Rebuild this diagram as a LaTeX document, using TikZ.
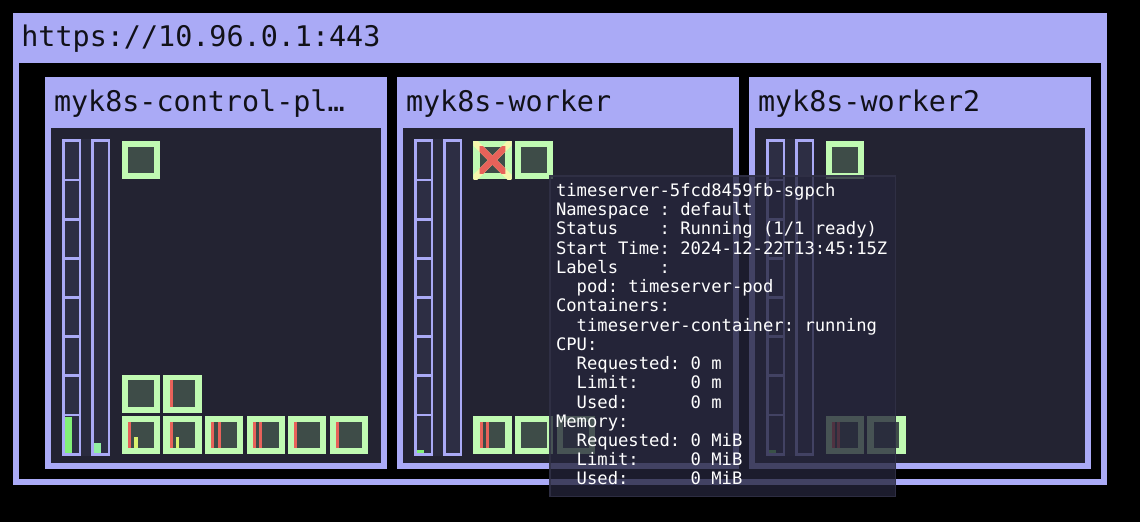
\documentclass[tikz,border=0pt]{standalone}
\usepackage{fontspec}
\setmonofont{DejaVu Sans Mono}
\definecolor{lav}{RGB}{170,170,246}
\definecolor{dk}{RGB}{35,35,50}
\definecolor{barin}{RGB}{45,46,68}
\definecolor{barbg}{RGB}{42,43,62}
\definecolor{podg}{RGB}{192,250,178}
\definecolor{podin}{RGB}{62,76,72}
\definecolor{redc}{RGB}{232,98,90}
\definecolor{yelc}{RGB}{218,242,112}
\definecolor{xyel}{RGB}{246,246,172}
\definecolor{grna}{RGB}{130,240,120}
\definecolor{grnb}{RGB}{146,240,162}
\definecolor{tipbg}{RGB}{37,37,58}
\definecolor{tipline}{RGB}{50,50,72}
\definecolor{hdrtext}{RGB}{17,17,24}
\tikzset{
  hdr/.style={font=\fontsize{28.4}{30}\selectfont\ttfamily, text=hdrtext, inner sep=0pt, anchor=base west},
  tiptext/.style={font=\fontsize{17.2}{19}\selectfont\ttfamily, text=white, inner sep=0pt, anchor=base west},
  bars/.pic={
    \fill[barbg] (0,0) rectangle (48,317);
    \filldraw[fill=barin,draw=lav,line width=2.7pt] (1.35,1.35) rectangle (17.65,315.65);
    \foreach \d in {41,80.2,119.3,158.5,197.7,236.8,276}
      \draw[lav,line width=2.7pt] (1.35,\d) -- (17.65,\d);
    \filldraw[fill=barin,draw=lav,line width=2.7pt] (30.05,1.35) rectangle (46.65,315.65);
  },
  pod/.pic={
    \fill[podg] (0,0) rectangle (38.3,38.3);
    \fill[podin] (6.3,5.7) rectangle (32,32.3);
  }
}
\newcommand{\redstripe}[2]{\fill[redc] (#1,#2+5.7) rectangle ++(3,26.6);}
\newcommand{\yelstripe}[1]{\fill[yelc] (#1,437) rectangle ++(3.3,11.3);}
\begin{document}
\begin{tikzpicture}[x=1pt,y=-1pt]
\useasboundingbox (0,0) rectangle (1140,522);
\fill[black] (0,0) rectangle (1140,522);
% outer cluster frame
\fill[lav] (13,13) rectangle (1106.7,485);
\fill[black] (19,63.3) rectangle (1100.7,479);
\node[hdr] (api) at (21.2,46.7) {https://10.96.0.1:443};
% node panels
\foreach \nx/\nm/\lab in {45/cp/{myk8s-control-pl…},397/wa/{myk8s-worker},749/wb/{myk8s-worker2}}{
  \fill[lav] (\nx,76.7) rectangle ++(341.7,392.6);
  \fill[dk] (\nx+6,128) rectangle ++(330,335);
  \node[hdr] (\nm) at (\nx+8.8,111) {\lab};
  \pic at (\nx+17.3,139) {bars};
}
% usage fills in bars
\fill[grna] (65,416.7) rectangle (72,452.7);
\fill[grnb] (94,442.7) rectangle (101,452.7);
\fill[grna] (417,450) rectangle (423.7,452.7);
\fill[grna] (769.3,450) rectangle (775.7,453);
% control-plane pods
\pic at (121.7,141) {pod};
\pic at (121.7,374.7) {pod};
\pic at (163.3,374.7) {pod};
\redstripe{169.7}{374.7}
\foreach \c in {121.7,163.3,204.9,246.5,288.1,329.7}
  \pic at (\c,416) {pod};
\redstripe{128}{416} \yelstripe{134.2}
\redstripe{169.7}{416} \yelstripe{175.6}
\redstripe{211}{416} \redstripe{217.7}{416}
\redstripe{252.7}{416} \redstripe{259}{416}
\redstripe{294.3}{416}
\redstripe{336}{416}
% worker pods
\pic at (473.3,141) {pod};
\begin{scope}
  \clip (473.3,141) rectangle (511.6,179.3);
  \draw[xyel,line width=6.5pt] (473.3,141) -- (511.6,179.3);
  \draw[xyel,line width=6.5pt] (511.6,141) -- (473.3,179.3);
\end{scope}
\begin{scope}
  \clip (479.6,146.7) rectangle (505.3,173);
  \draw[redc,line width=6.5pt] (473.3,141) -- (511.6,179.3);
  \draw[redc,line width=6.5pt] (511.6,141) -- (473.3,179.3);
\end{scope}
\pic at (514.9,141) {pod};
\pic at (473.3,416) {pod};
\redstripe{479.7}{416} \redstripe{485.7}{416}
\pic at (514.9,416) {pod};
\pic at (556.5,416) {pod};
% worker2 pods
\pic at (825.7,141) {pod};
\pic at (825.7,416) {pod};
\redstripe{832.3}{416} \redstripe{837}{416}
\pic at (867.3,416) {pod};
% tooltip
\fill[tipbg,fill opacity=0.78] (549,175) rectangle (896,497);
\draw[tipline,line width=1.5pt,draw opacity=0.8] (549.75,175.75) rectangle (895.25,496.25);
\foreach \t [count=\i] in {
  {timeserver-5fcd8459fb-sgpch},
  {Namespace~:~default},
  {Status~~~~:~Running~(1/1~ready)},
  {Start~Time:~2024-12-22T13:45:15Z},
  {Labels~~~~:},
  {~~pod:~timeserver-pod},
  {Containers:},
  {~~timeserver-container:~running},
  {CPU:},
  {~~Requested:~0~m},
  {~~Limit:~~~~~0~m},
  {~~Used:~~~~~~0~m},
  {Memory:},
  {~~Requested:~0~MiB},
  {~~Limit:~~~~~0~MiB},
  {~~Used:~~~~~~0~MiB}}
  \node[tiptext] (tip\i) at ({555.8},{196.5+19.23*(\i-1)}) {\t};
\end{tikzpicture}
\end{document}
